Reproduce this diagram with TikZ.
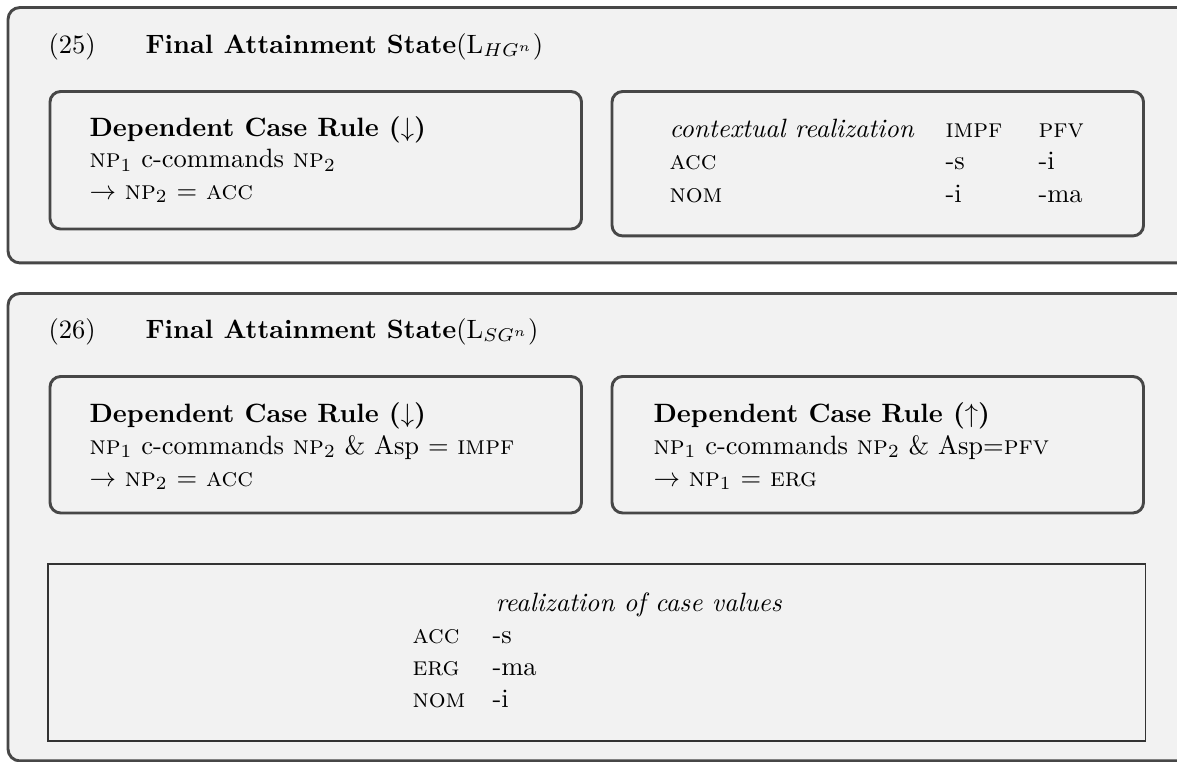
\documentclass[tikz,border=0pt]{standalone}
\usepackage{amssymb}
\usepackage{amsmath}
\usepackage{tikz}
\usepackage{xcolor}

\begin{document}
\begin{tikzpicture}
[
x = 0.3774pt, y = -0.3774pt,
frame-a/.style={draw=black!72, fill=black!5, line width=1.1pt, rounded corners=4.5pt, anchor=north west, inner sep=0pt, outer sep=0pt, minimum width=448.0pt},
rule-a/.style={draw=black!72, fill=black!5, line width=1.1pt, rounded corners=4pt, anchor=north west, inner sep=0pt, outer sep=0pt, minimum width=200.6pt},
table-a/.style={draw=black!80, fill=black!5, line width=0.5pt, anchor=north west, inner sep=0pt, outer sep=0pt, minimum width=414.2pt, minimum height=66.8pt},
text-a/.style={black, anchor=base west, inner sep=0pt}
]
\clip (0,0) rectangle (1177,761);
\node (frame-25)      [frame-a, minimum height=96.4pt ] at (8,7.5)     {};
\node (rule-25-down)  [rule-a,  minimum height=51.9pt ] at (50,91.5)   {};
\node (table-25)      [rule-a,  minimum height=54.5pt ] at (612,91.5)  {};
\node (ex-25)         [text-a] at (48,53)   {(25)};
\node (title-25)      [text-a] at (145,53)  {\textbf{Final Attainment State}(L$_{HG^n}$)};
\node (down-25-h)     [text-a] at (89,136)  {\textbf{Dependent Case Rule ($\downarrow$)}};
\node (down-25-1)     [text-a] at (89,167.5){\textsc{np}$_1$ c-commands \textsc{np}$_2$};
\node (down-25-2)     [text-a] at (89,199)  {$\rightarrow$ \textsc{np}$_2$ $=$ \textsc{acc}};
\node (cr-head)       [text-a] at (669,137) {\textit{contextual realization}};
\node (cr-impf)       [text-a] at (945,137) {\textsc{impf}};
\node (cr-pfv)        [text-a] at (1038,137){\textsc{pfv}};
\node (cr-acc)        [text-a] at (669,169.5) {\textsc{acc}};
\node (cr-acc-impf)   [text-a] at (945,169.5) {-s};
\node (cr-acc-pfv)    [text-a] at (1038,169.5){-i};
\node (cr-nom)        [text-a] at (669,202) {\textsc{nom}};
\node (cr-nom-impf)   [text-a] at (945,202) {-i};
\node (cr-nom-pfv)    [text-a] at (1038,202){-ma};
\node (frame-26)      [frame-a, minimum height=176.4pt] at (8,293.5)   {};
\node (rule-26-down)  [rule-a,  minimum height=51.5pt ] at (50,376.5)  {};
\node (rule-26-up)    [rule-a,  minimum height=51.5pt ] at (612,376.5) {};
\node (table-26)      [table-a] at (48,564) {};
\node (ex-26)         [text-a] at (48,338)  {(26)};
\node (title-26)      [text-a] at (145,338) {\textbf{Final Attainment State}(L$_{SG^n}$)};
\node (down-26-h)     [text-a] at (89,422)  {\textbf{Dependent Case Rule ($\downarrow$)}};
\node (down-26-1)     [text-a] at (89,454)  {\textsc{np}$_1$ c-commands \textsc{np}$_2$ \& Asp $=$ \textsc{impf}};
\node (down-26-2)     [text-a] at (89,486)  {$\rightarrow$ \textsc{np}$_2$ $=$ \textsc{acc}};
\node (up-26-h)       [text-a] at (653,422) {\textbf{Dependent Case Rule ($\uparrow$)}};
\node (up-26-1)       [text-a] at (653,454) {\textsc{np}$_1$ c-commands \textsc{np}$_2$ \& Asp$=$\textsc{pfv}};
\node (up-26-2)       [text-a] at (653,486) {$\rightarrow$ \textsc{np}$_1$ $=$ \textsc{erg}};
\node (rv-head)       [text-a] at (495,611) {\textit{realization of case values}};
\node (rv-acc)        [text-a] at (412,643) {\textsc{acc}};
\node (rv-acc-val)    [text-a] at (492,643) {-s};
\node (rv-erg)        [text-a] at (412,675) {\textsc{erg}};
\node (rv-erg-val)    [text-a] at (492,675) {-ma};
\node (rv-nom)        [text-a] at (412,707) {\textsc{nom}};
\node (rv-nom-val)    [text-a] at (492,707) {-i};
\end{tikzpicture}
\end{document}
